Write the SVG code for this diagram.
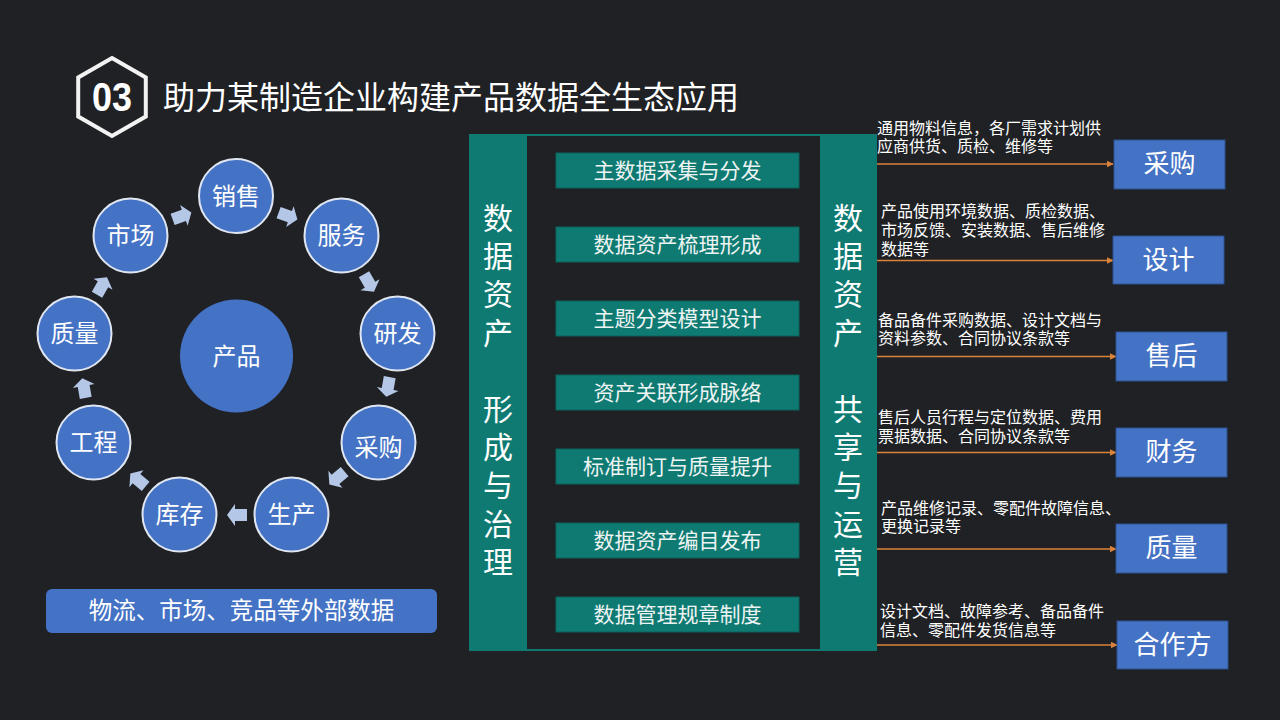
<svg xmlns="http://www.w3.org/2000/svg" width="1280" height="720" viewBox="0 0 1280 720">
<style>
text{font-family:"Noto Sans CJK SC","Liberation Sans",sans-serif;fill:#ffffff}
.ring{fill:#4472C4;stroke:#dfe6f2;stroke-width:2}
.ct{font-size:24px;text-anchor:middle}
.item rect{fill:#0e7a72;stroke:#0b635d;stroke-width:1}
.item text{font-size:21px;text-anchor:middle;fill:#eef4f3}
.vt{font-size:30px;text-anchor:middle}
.tgt rect{fill:#4472C4;stroke:#2f528f;stroke-width:1}
.tgt text{font-size:26px;text-anchor:middle}
.lbl{font-size:16px}
.flow{stroke:#d9823b;stroke-width:1.5;fill:none;marker-end:url(#oa)}
.blk{fill:#b4c7e7}
</style>
<defs>
<marker id="oa" viewBox="0 0 10 10" refX="9" refY="5" markerWidth="7" markerHeight="7" markerUnits="userSpaceOnUse" orient="auto"><path d="M0,0 L10,5 L0,10 Z" fill="#d9823b"/></marker>
<path id="ba" d="M-10,-6 L2,-6 L2,-11 L10,0 L2,11 L2,6 L-10,6 Z"/>
</defs>
<rect width="1280" height="720" fill="#202124"/>
<g id="title">
<polygon points="112,58 145.8,77.5 145.8,116.5 112,136 78.2,116.5 78.2,77.5" fill="none" stroke="#f2f2f2" stroke-width="4"/>
<text x="112" y="111" style="font-family:'Liberation Sans',sans-serif;font-weight:bold;font-size:40px" text-anchor="middle" textLength="40" lengthAdjust="spacingAndGlyphs">03</text>
<text x="163" y="109" style="font-size:32px">助力某制造企业构建产品数据全生态应用</text>
</g>
<g id="cycle-arrows" class="blk">
<use href="#ba" transform="translate(182,216) rotate(-20)"/>
<use href="#ba" transform="translate(288,216) rotate(20)"/>
<use href="#ba" transform="translate(369,283) rotate(60)"/>
<use href="#ba" transform="translate(388,387) rotate(100)"/>
<use href="#ba" transform="translate(337,478) rotate(140)"/>
<use href="#ba" transform="translate(237,515) rotate(180)"/>
<use href="#ba" transform="translate(138,480) rotate(220)"/>
<use href="#ba" transform="translate(84,388) rotate(260)"/>
<use href="#ba" transform="translate(102,286) rotate(-60)"/>
</g>
<g id="product"><circle cx="236.5" cy="356" r="56.5" fill="#4472C4"/><text class="ct" x="236.5" y="364.5">产品</text></g>
<g id="n-sales"><circle class="ring" cx="236" cy="196" r="37"/><text class="ct" x="236" y="204.5">销售</text></g>
<g id="n-service"><circle class="ring" cx="341.5" cy="235.5" r="37"/><text class="ct" x="341.5" y="244">服务</text></g>
<g id="n-rd"><circle class="ring" cx="397.5" cy="333.5" r="37"/><text class="ct" x="397.5" y="342">研发</text></g>
<g id="n-purchase"><circle class="ring" cx="378.5" cy="442.5" r="37"/><text class="ct" x="378.5" y="456">采购</text></g>
<g id="n-production"><circle class="ring" cx="291.5" cy="514.5" r="37"/><text class="ct" x="291.5" y="523">生产</text></g>
<g id="n-stock"><circle class="ring" cx="179.5" cy="514.5" r="37"/><text class="ct" x="179.5" y="523">库存</text></g>
<g id="n-engineering"><circle class="ring" cx="93.5" cy="442.5" r="37"/><text class="ct" x="93.5" y="451">工程</text></g>
<g id="n-quality"><circle class="ring" cx="74.5" cy="333.5" r="37"/><text class="ct" x="74.5" y="342">质量</text></g>
<g id="n-market"><circle class="ring" cx="130.5" cy="235.5" r="37"/><text class="ct" x="130.5" y="244">市场</text></g>
<g id="external"><rect x="46" y="589" width="391" height="44" rx="6" fill="#4472C4"/><text x="241.5" y="619" style="font-size:23.5px" text-anchor="middle">物流、市场、竞品等外部数据</text></g>
<g id="panel">
<rect x="469" y="134" width="408" height="517" fill="#0e7a72"/>
<rect x="527" y="136" width="293" height="513" fill="#202124"/>
<text class="vt" x="498" y="229"><tspan x="498">数</tspan><tspan x="498" dy="38.2">据</tspan><tspan x="498" dy="38.2">资</tspan><tspan x="498" dy="38.2">产</tspan><tspan x="498" dy="76.4">形</tspan><tspan x="498" dy="38.2">成</tspan><tspan x="498" dy="38.2">与</tspan><tspan x="498" dy="38.2">治</tspan><tspan x="498" dy="38.2">理</tspan></text>
<text class="vt" x="848" y="229"><tspan x="848">数</tspan><tspan x="848" dy="38.2">据</tspan><tspan x="848" dy="38.2">资</tspan><tspan x="848" dy="38.2">产</tspan><tspan x="848" dy="76.4">共</tspan><tspan x="848" dy="38.2">享</tspan><tspan x="848" dy="38.2">与</tspan><tspan x="848" dy="38.2">运</tspan><tspan x="848" dy="38.2">营</tspan></text>
</g>
<g id="i1" class="item"><rect x="556" y="153" width="243" height="35"/><text x="677.5" y="178">主数据采集与分发</text></g>
<g id="i2" class="item"><rect x="556" y="227" width="243" height="35"/><text x="677.5" y="252">数据资产梳理形成</text></g>
<g id="i3" class="item"><rect x="556" y="301" width="243" height="35"/><text x="677.5" y="326">主题分类模型设计</text></g>
<g id="i4" class="item"><rect x="556" y="375" width="243" height="35"/><text x="677.5" y="400">资产关联形成脉络</text></g>
<g id="i5" class="item"><rect x="556" y="449" width="243" height="35"/><text x="677.5" y="474">标准制订与质量提升</text></g>
<g id="i6" class="item"><rect x="556" y="523" width="243" height="35"/><text x="677.5" y="548">数据资产编目发布</text></g>
<g id="i7" class="item"><rect x="556" y="597" width="243" height="35"/><text x="677.5" y="622">数据管理规章制度</text></g>
<g id="connectors">
<line class="flow" x1="877" y1="164" x2="1113" y2="164"/>
<line class="flow" x1="877" y1="260.5" x2="1113" y2="260.5"/>
<line class="flow" x1="877" y1="356.5" x2="1116" y2="356.5"/>
<line class="flow" x1="877" y1="452.5" x2="1116" y2="452.5"/>
<line class="flow" x1="877" y1="549" x2="1116" y2="549"/>
<line class="flow" x1="877" y1="645" x2="1117" y2="645"/>
</g>
<g id="labels">
<text class="lbl" x="877" y="134"><tspan x="877">通用物料信息，各厂需求计划供</tspan><tspan x="877" dy="18">应商供货、质检、维修等</tspan></text>
<text class="lbl" x="881" y="217"><tspan x="881">产品使用环境数据、质检数据、</tspan><tspan x="881" dy="19">市场反馈、安装数据、售后维修</tspan><tspan x="881" dy="19">数据等</tspan></text>
<text class="lbl" x="878" y="326"><tspan x="878">备品备件采购数据、设计文档与</tspan><tspan x="878" dy="18">资料参数、合同协议条款等</tspan></text>
<text class="lbl" x="878" y="423"><tspan x="878">售后人员行程与定位数据、费用</tspan><tspan x="878" dy="19">票据数据、合同协议条款等</tspan></text>
<text class="lbl" x="881" y="514"><tspan x="881">产品维修记录、零配件故障信息、</tspan><tspan x="881" dy="18">更换记录等</tspan></text>
<text class="lbl" x="880" y="617"><tspan x="880">设计文档、故障参考、备品备件</tspan><tspan x="880" dy="19">信息、零配件发货信息等</tspan></text>
</g>
<g id="t1" class="tgt"><rect x="1114" y="140" width="111" height="49"/><text x="1169.5" y="173">采购</text></g>
<g id="t2" class="tgt"><rect x="1113" y="236" width="111" height="48"/><text x="1168.5" y="269">设计</text></g>
<g id="t3" class="tgt"><rect x="1116" y="332" width="111" height="49"/><text x="1171.5" y="365">售后</text></g>
<g id="t4" class="tgt"><rect x="1116" y="428" width="111" height="49"/><text x="1171.5" y="461">财务</text></g>
<g id="t5" class="tgt"><rect x="1116" y="524" width="111" height="49"/><text x="1171.5" y="557">质量</text></g>
<g id="t6" class="tgt"><rect x="1117" y="621" width="111" height="48"/><text x="1172.5" y="654">合作方</text></g>
</svg>
